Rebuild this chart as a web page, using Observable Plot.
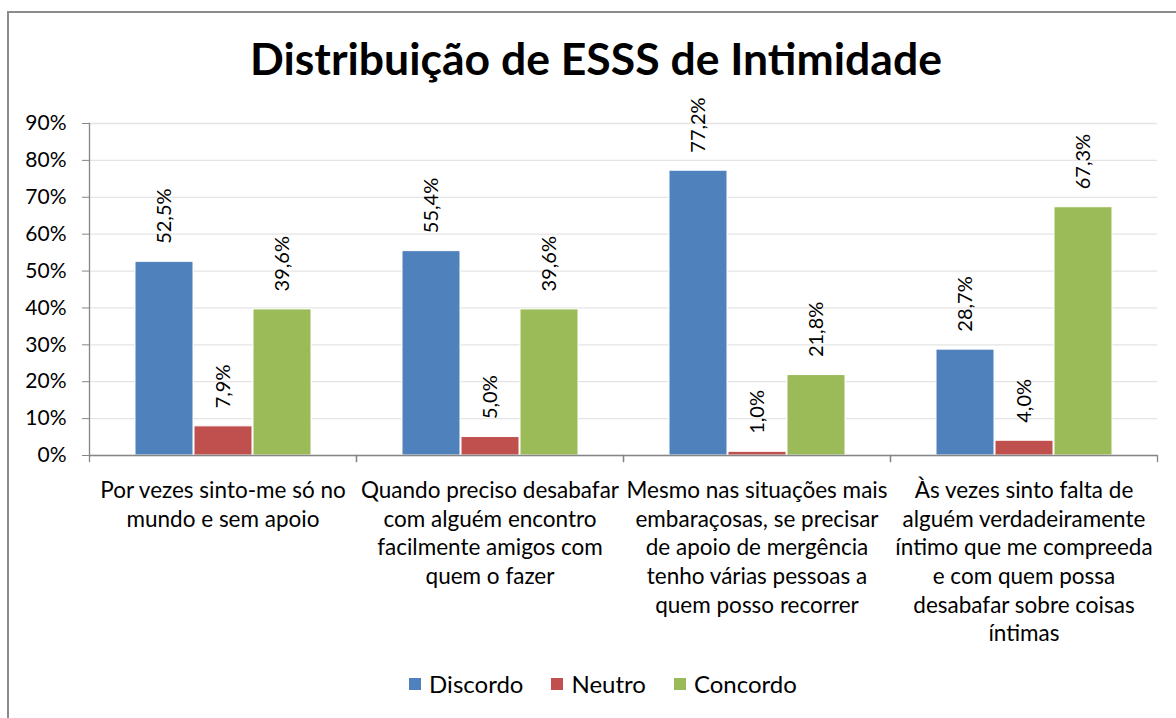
<!DOCTYPE html>
<html><head><meta charset="utf-8">
<script src="https://cdn.jsdelivr.net/npm/d3@7"></script>
<script src="https://cdn.jsdelivr.net/npm/@observablehq/plot@0.6"></script>
<style>
html,body{margin:0;padding:0;background:#fff;overflow:hidden;width:1176px;height:718px;}
#frame{position:absolute;left:7px;top:11px;width:1400px;height:900px;border-left:2px solid #8c8c8c;border-top:2px solid #8c8c8c;box-sizing:border-box;}
#chart{position:absolute;left:0;top:0;}
#title{position:absolute;left:0;width:1192px;top:36px;text-align:center;font-family:Lato;font-weight:700;font-size:44.5px;line-height:1;color:#000;white-space:nowrap;}
#legend{position:absolute;left:0;width:1206px;top:672px;display:flex;justify-content:center;align-items:center;font-family:Lato;font-size:24px;line-height:1;color:#000;}
#legend .item{display:flex;align-items:center;margin:0 14px;}
#legend .sw{width:12px;height:12px;margin-right:8px;}
</style></head><body>
<div id="frame"></div>
<div id="chart"></div>
<div id="title">Distribuição de ESSS de Intimidade</div>
<div id="legend"></div>
<script>
const categories = [
  "Por vezes sinto-me só no\nmundo e sem apoio",
  "Quando preciso desabafar\ncom alguém encontro\nfacilmente amigos com\nquem o fazer",
  "Mesmo nas situações mais\nembaraçosas, se precisar\nde apoio de mergência\ntenho várias pessoas a\nquem posso recorrer",
  "Às vezes sinto falta de\nalguém verdadeiramente\níntimo que me compreeda\ne com quem possa\ndesabafar sobre coisas\níntimas"
];
const series = ["Discordo", "Neutro", "Concordo"];
const colors = ["#4F81BD", "#C0504D", "#9BBB59"];
const discordo = [0.525, 0.554, 0.772, 0.287];
const neutro   = [0.079, 0.050, 0.010, 0.040];
const concordo = [0.396, 0.396, 0.218, 0.673];
const yTicks = [0, 0.1, 0.2, 0.3, 0.4, 0.5, 0.6, 0.7, 0.8, 0.9];

const valuesBySeries = [discordo, neutro, concordo];
const table = [];
categories.forEach((c, i) => series.forEach((s, j) => table.push({category: c, series: s, value: valuesBySeries[j][i]})));

const locale = d3.formatLocale({decimal: ",", thousands: ".", grouping: [3], currency: ["", "€"]});
const pct1 = locale.format(".1%");
const pct0 = locale.format(".0%");

const W = 1176, H = 718, mT = 123, mB = 263, mL = 89, mR = 19;
const innerH = H - mT - mB;
const axisGray = "#868686";

const chart = Plot.plot({
  width: W, height: H,
  marginTop: mT, marginBottom: mB, marginLeft: mL, marginRight: mR,
  style: {background: "transparent", fontFamily: "Lato", color: "#000"},
  fx: {domain: categories, padding: 0, axis: null, label: null},
  x: {domain: series, paddingInner: 0.02, paddingOuter: 0.75, axis: null},
  y: {domain: [0, 0.9], axis: null},
  color: {domain: series, range: colors},
  marks: [
    Plot.gridY(yTicks, {stroke: "#e4e4e4", strokeOpacity: 1, strokeWidth: 1.3}),
    Plot.barY(table, {fx: "category", x: "series", y: "value", fill: "series", stroke: "white", strokeWidth: 1}),
    Plot.text(table, {fx: "category", x: "series", y: "value", text: d => pct1(d.value), rotate: -90, textAnchor: "start", lineAnchor: "middle", dy: -18, fontSize: 20, fill: "#000"}),
    Plot.ruleY([0], {stroke: axisGray, strokeWidth: 1.3}),
    Plot.frame({anchor: "left", facet: "super", stroke: axisGray, strokeWidth: 1.3}),
    Plot.frame({anchor: "left", insetTop: innerH, insetBottom: -6, stroke: axisGray, strokeWidth: 1.3}),
    Plot.frame({anchor: "right", insetTop: innerH, insetBottom: -6, stroke: axisGray, strokeWidth: 1.3}),
    Plot.axisY(yTicks, {tickSize: 7, tickPadding: 16, tickFormat: pct0, fontSize: 21, stroke: axisGray, fill: "#000", label: null}),
    Plot.axisFx({anchor: "bottom", tickSize: 0, tickPadding: 22, lineHeight: 1.276, fontSize: 22.5, fill: "#000", label: null, textOverflow: null})
  ]
});
document.getElementById("chart").appendChild(chart);

const legend = document.getElementById("legend");
series.forEach((s, i) => {
  const item = document.createElement("div");
  item.className = "item";
  const sw = document.createElement("span");
  sw.className = "sw";
  sw.style.background = colors[i];
  const t = document.createElement("span");
  t.textContent = s;
  item.appendChild(sw); item.appendChild(t);
  legend.appendChild(item);
});
</script>
</body></html>
